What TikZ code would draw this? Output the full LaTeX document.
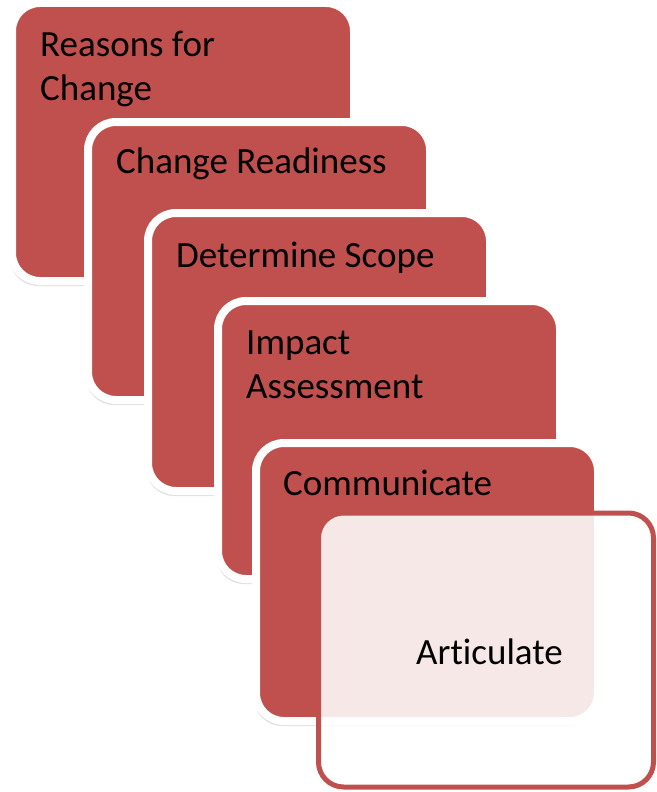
\documentclass[tikz,border=0pt]{standalone}
\usepackage{fontspec}
\setmainfont{Carlito}[Ligatures=NoCommon]
\usetikzlibrary{shadows}

\definecolor{cardred}{RGB}{192,80,77}

\begin{document}
\begin{tikzpicture}[x=1pt, y=-1pt,
	card/.style={rectangle, anchor=north west, inner sep=0pt, outer sep=0pt,
		minimum width=342pt, minimum height=278pt, rounded corners=28pt,
		fill=cardred, draw=white, line width=8pt,
		drop shadow={shadow xshift=-2pt, shadow yshift=-5pt, opacity=0.12, fill=black}},
	lastcard/.style={rectangle, anchor=north west, inner sep=0pt, outer sep=0pt,
		minimum width=335pt, minimum height=274pt, rounded corners=25pt,
		fill=white, fill opacity=0.87, text opacity=1, draw=cardred, line width=5pt},
	cardtext/.style={anchor=base west, inner sep=0pt, align=left, text=black,
		font=\fontsize{37}{44}\selectfont}]
	\useasboundingbox (0,0) rectangle (656,792);

	% Cards {reasons, readiness, scope, impact, communicate}
	\node [card] (reasons) 		at (12,3) 	{};
	\node [cardtext] (reasonsText) 		at ([shift={(28,97)}]reasons.north west) 	{Reasons for\\Change};

	\node [card] (readiness) 	at (88,122) 	{};
	\node [cardtext] (readinessText) 	at ([shift={(28,51)}]readiness.north west) 	{Change Readiness};

	\node [card] (scope) 		at (148,213) 	{};
	\node [cardtext] (scopeText) 		at ([shift={(28,54)}]scope.north west) 	{Determine Scope};

	\node [card] (impact) 		at (218,301) 	{};
	\node [cardtext] (impactText) 		at ([shift={(28,97)}]impact.north west) 	{Impact\\Assessment};

	\node [card] (communicate) 	at (256,443) 	{};
	\node [cardtext] (communicateText) 	at ([shift={(27,52)}]communicate.north west) 	{Communicate};

	% Last card, see-through
	\node [lastcard] (articulate) 	at (318.5,513) 	{};
	\node [cardtext, anchor=base] (articulateText) 	at ([shift={(3.5,14.5)}]articulate.center) 	{Articulate};

\end{tikzpicture}
\end{document}
